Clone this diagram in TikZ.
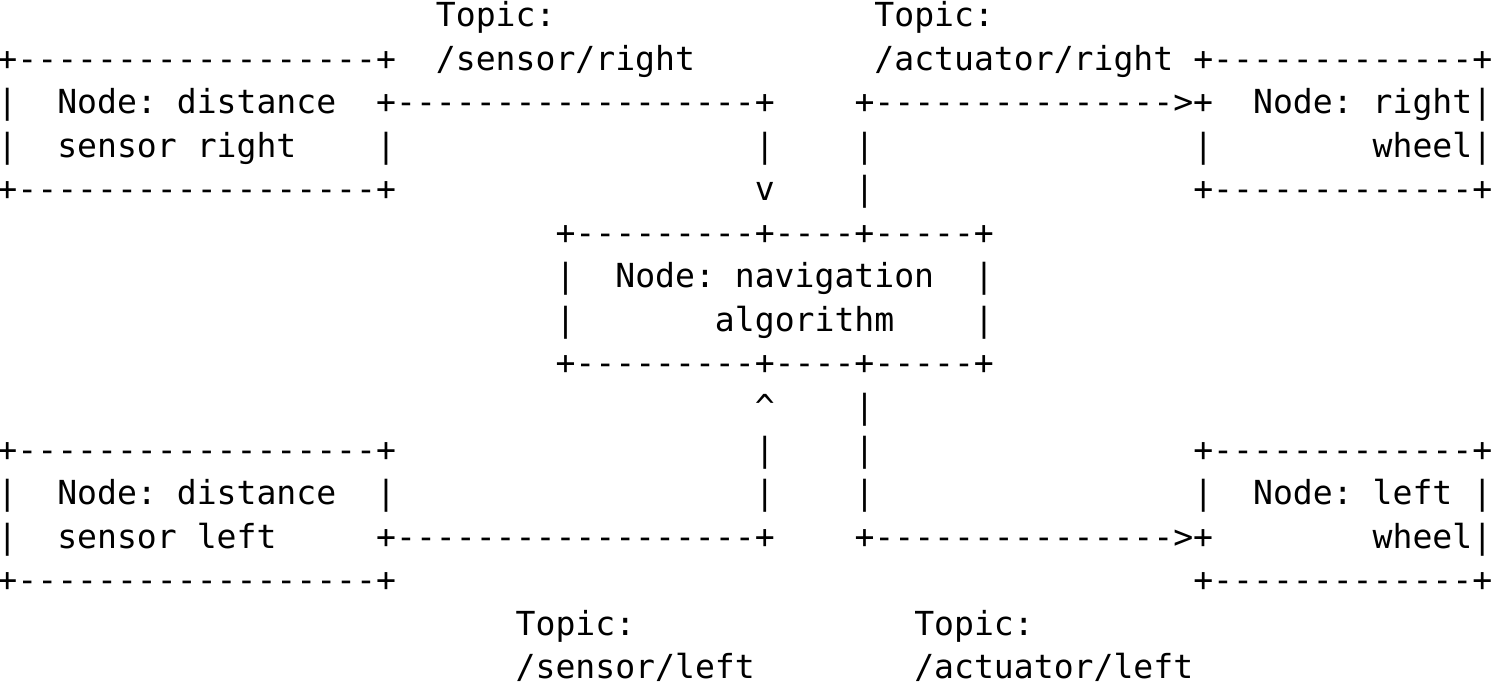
\documentclass[tikz,border=0pt]{standalone}
\usepackage{fontspec}
\setmonofont{DejaVu Sans Mono}
\tikzset{
  asc/.style={inner sep=0pt, outer sep=0pt, anchor=base west,
    font=\fontsize{33.1}{40}\selectfont\ttfamily, text=black}
}
\newcommand\seg[4]{\node[asc] (#1) at ({-2.5+19.93*#2},{27+43.45*#3}) {#4};}
\begin{document}
\begin{tikzpicture}[x=1pt,y=-1pt]
\fill[white] (0,0) rectangle (1493,684);
\useasboundingbox (0,0) rectangle (1493,684);
% row 0
\seg{tsr}{22}{0}{Topic:}
\seg{tar}{44}{0}{Topic:}
% row 1
\seg{dsrtop}{0}{1}{+------------------+}
\seg{tsrn}{22}{1}{/sensor/right}
\seg{tarn}{44}{1}{/actuator/right}
\seg{rwtop}{60}{1}{+-------------+}
% row 2
\seg{dsrl1}{0}{2}{|}
\seg{dsrlab1}{3}{2}{Node: distance}
\seg{srline}{19}{2}{+------------------+}
\seg{arline}{43}{2}{+--------------->+}
\seg{rwlab1}{63}{2}{Node: right|}
% row 3
\seg{dsrl2}{0}{3}{|}
\seg{dsrlab2}{3}{3}{sensor right}
\seg{dsrr2}{19}{3}{|}
\seg{srv1}{38}{3}{|}
\seg{arv1}{43}{3}{|}
\seg{rwl2}{60}{3}{|}
\seg{rwlab2}{69}{3}{wheel|}
% row 4
\seg{dsrbot}{0}{4}{+------------------+}
\seg{srarrow}{38}{4}{v}
\seg{arv2}{43}{4}{|}
\seg{rwbot}{60}{4}{+-------------+}
% row 5-8 navigation box
\seg{navtop}{28}{5}{+---------+----+-----+}
\seg{navl1}{28}{6}{|}
\seg{navlab1}{31}{6}{Node: navigation}
\seg{navr1}{49}{6}{|}
\seg{navl2}{28}{7}{|}
\seg{navlab2}{36}{7}{algorithm}
\seg{navr2}{49}{7}{|}
\seg{navbot}{28}{8}{+---------+----+-----+}
% row 9
\seg{slarrow}{38}{9}{\textasciicircum}
\seg{alv1}{43}{9}{|}
% row 10
\seg{dsltop}{0}{10}{+------------------+}
\seg{slv1}{38}{10}{|}
\seg{alv2}{43}{10}{|}
\seg{lwtop}{60}{10}{+-------------+}
% row 11
\seg{dsll1}{0}{11}{|}
\seg{dsllab1}{3}{11}{Node: distance}
\seg{dslr1}{19}{11}{|}
\seg{slv2}{38}{11}{|}
\seg{alv3}{43}{11}{|}
\seg{lwl1}{60}{11}{|}
\seg{lwlab1}{63}{11}{Node: left}
\seg{lwr1}{74}{11}{|}
% row 12
\seg{dsll2}{0}{12}{|}
\seg{dsllab2}{3}{12}{sensor left}
\seg{slline}{19}{12}{+------------------+}
\seg{alline}{43}{12}{+--------------->+}
\seg{lwlab2}{69}{12}{wheel|}
% row 13
\seg{dslbot}{0}{13}{+------------------+}
\seg{lwbot}{60}{13}{+-------------+}
% rows 14-15
\seg{tsl}{26}{14}{Topic:}
\seg{tal}{46}{14}{Topic:}
\seg{tsln}{26}{15}{/sensor/left}
\seg{taln}{46}{15}{/actuator/left}
\end{tikzpicture}
\end{document}
